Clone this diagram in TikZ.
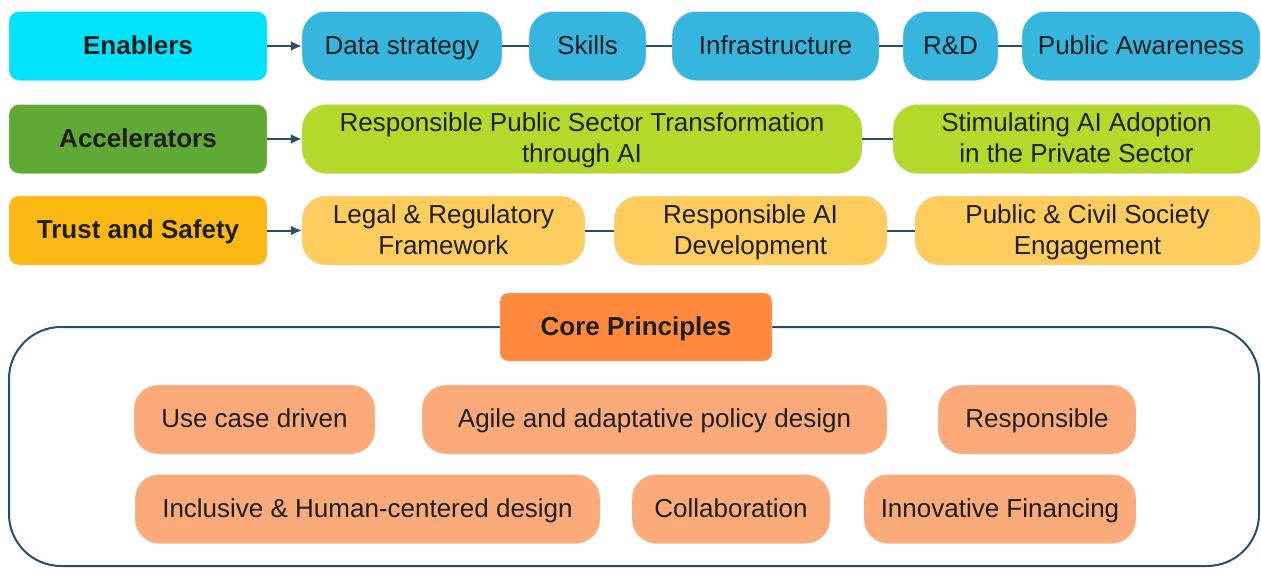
\documentclass[tikz,border=0pt]{standalone}
\usepackage{fontspec}
\setmainfont{Liberation Sans}
\usepackage{tikz}
\usetikzlibrary{arrows.meta}

\definecolor{enabhead}{HTML}{00E4FB}
\definecolor{enabitem}{HTML}{36B6DE}
\definecolor{accelhead}{HTML}{5FA935}
\definecolor{accelitem}{HTML}{B5D92B}
\definecolor{trusthead}{HTML}{FDB913}
\definecolor{trustitem}{HTML}{FFCD5E}
\definecolor{corehead}{HTML}{FF8A3D}
\definecolor{coreitem}{HTML}{FBAB7A}
\definecolor{linkcol}{HTML}{24506E}
\definecolor{txtcol}{HTML}{1E1E1E}

% line strut, keeps the text lines at the same height
\newcommand{\lnstrut}{\rule[-7.5pt]{0pt}{31pt}}

\begin{document}
\begin{tikzpicture}[x=1pt,y=-1pt,>={Latex[length=11pt,width=10pt]},
  every node/.style={font=\fontsize{26}{31}\selectfont,text=txtcol,align=center,inner sep=0pt},
  head/.style={shape=rectangle,rounded corners=10pt,minimum width=258pt,minimum height=69pt,draw=black!12,font=\fontsize{26}{31}\selectfont\bfseries},
  item/.style={shape=rectangle,rounded corners=24pt,minimum height=69pt,draw=black!12},
  link/.style={line width=2pt,draw=linkcol}]
\useasboundingbox (0,0) rectangle (1261,568);

% rows
\path (138,46) node (enablers) [head,fill=enabhead] {\lnstrut Enablers};
\path (402,46) node (data) [item,fill=enabitem,minimum width=200pt] {\lnstrut Data strategy};
\path (587.5,46) node (skills) [item,fill=enabitem,minimum width=117pt] {\lnstrut Skills};
\path (775.5,46) node (infra) [item,fill=enabitem,minimum width=207pt] {\lnstrut Infrastructure};
\path (950.5,46) node (rnd) [item,fill=enabitem,minimum width=95pt] {\lnstrut R\&D};
\path (1141,46) node (aware) [item,fill=enabitem,minimum width=238pt] {\lnstrut Public Awareness};

\path (138,139) node (accel) [head,fill=accelhead] {\lnstrut Accelerators};
\path (582,139) node (pubsec) [item,fill=accelitem,minimum width=560pt] {\lnstrut Responsible Public Sector Transformation\\\lnstrut through AI};
\path (1076.5,139) node (privsec) [item,fill=accelitem,minimum width=367pt] {\lnstrut Stimulating AI Adoption\\\lnstrut in the Private Sector};

\path (138,230.5) node (trust) [head,fill=trusthead] {\lnstrut Trust and Safety};
\path (443.5,230.5) node (legal) [item,fill=trustitem,minimum width=283pt] {\lnstrut Legal \& Regulatory\\\lnstrut Framework};
\path (750.5,230.5) node (respdev) [item,fill=trustitem,minimum width=273pt] {\lnstrut Responsible AI\\\lnstrut Development};
\path (1087.5,230.5) node (civil) [item,fill=trustitem,minimum width=345pt] {\lnstrut Public \& Civil Society\\\lnstrut Engagement};

\draw [link,->] (enablers) to (data);
\draw [link] (data) to (skills);
\draw [link] (skills) to (infra);
\draw [link] (infra) to (rnd);
\draw [link] (rnd) to (aware);
\draw [link,->] (accel) to (pubsec);
\draw [link] (pubsec) to (privsec);
\draw [link,->] (trust) to (legal);
\draw [link] (legal) to (respdev);
\draw [link] (respdev) to (civil);

% core principles
\draw [link,rounded corners=52pt] (9,327) rectangle (1259,566);
\path (636,327) node (core) [head,fill=corehead,minimum width=272pt,minimum height=68pt,rounded corners=8pt] {\lnstrut Core Principles};

\path (254.5,419.5) node (usecase) [item,fill=coreitem,minimum width=241pt] {\lnstrut Use case driven};
\path (654.5,419.5) node (agile) [item,fill=coreitem,minimum width=465pt] {\lnstrut Agile and adaptative policy design};
\path (1037,419.5) node (resp) [item,fill=coreitem,minimum width=198pt] {\lnstrut Responsible};
\path (367.5,509) node (inclusive) [item,fill=coreitem,minimum width=465pt] {\lnstrut Inclusive \& Human-centered design};
\path (731,509) node (collab) [item,fill=coreitem,minimum width=198pt] {\lnstrut Collaboration};
\path (1000,509) node (finance) [item,fill=coreitem,minimum width=272pt] {\lnstrut Innovative Financing};
\end{tikzpicture}
\end{document}
